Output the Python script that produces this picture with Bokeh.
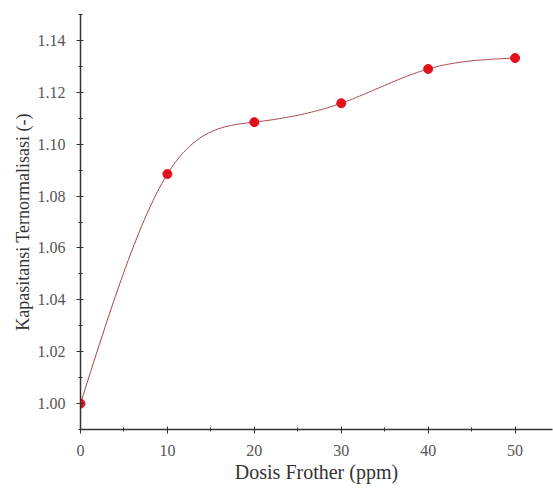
import numpy as np
from bokeh.plotting import figure
from bokeh.models import FixedTicker, Range1d, CustomJSTickFormatter
from bokeh.embed import file_html
from bokeh.resources import INLINE

# Data
dose = [0, 10, 20, 30, 40, 50]
capacitance = [1.000, 1.0885, 1.1085, 1.1158, 1.1290, 1.1332]
x_ticks = [0, 10, 20, 30, 40, 50]
y_ticks = [1.00, 1.02, 1.04, 1.06, 1.08, 1.10, 1.12, 1.14]


def natural_spline(x, y, xs):
    x = np.asarray(x, float)
    y = np.asarray(y, float)
    n = len(x)
    h = np.diff(x)
    A = np.zeros((n, n))
    b = np.zeros(n)
    A[0, 0] = 1
    A[-1, -1] = 1
    for i in range(1, n - 1):
        A[i, i - 1] = h[i - 1]
        A[i, i] = 2 * (h[i - 1] + h[i])
        A[i, i + 1] = h[i]
        b[i] = 3 * ((y[i + 1] - y[i]) / h[i] - (y[i] - y[i - 1]) / h[i - 1])
    c = np.linalg.solve(A, b)
    out = []
    for t in xs:
        i = min(max(np.searchsorted(x, t) - 1, 0), n - 2)
        dx = t - x[i]
        bi = (y[i + 1] - y[i]) / h[i] - h[i] * (2 * c[i] + c[i + 1]) / 3
        di = (c[i + 1] - c[i]) / (3 * h[i])
        out.append(y[i] + bi * dx + c[i] * dx ** 2 + di * dx ** 3)
    return np.array(out)


xs = np.linspace(min(dose), max(dose), 300)
ys = natural_spline(dose, capacitance, xs)

p = figure(width=553, height=488, output_backend="svg", toolbar_location=None,
           x_range=Range1d(0, 54.3), y_range=Range1d(0.99, 1.15),
           min_border_left=80, min_border_right=1, min_border_top=14, min_border_bottom=59)
p.outline_line_color = None
p.xgrid.visible = False
p.ygrid.visible = False
p.background_fill_color = "white"

p.line(xs, ys, line_color="#a84048", line_width=1)
p.scatter(dose, capacitance, size=9, fill_color="#e3101c", line_color="#e3101c")

for ax in (p.xaxis[0], p.yaxis[0]):
    ax.axis_line_color = "#333333"
    ax.axis_line_width = 1.5
    ax.major_tick_line_color = "#333333"
    ax.minor_tick_line_color = "#333333"
    ax.major_tick_in = 3
    ax.major_tick_out = 4
    ax.minor_tick_in = 2
    ax.minor_tick_out = 2
    ax.major_label_text_font = "Liberation Serif"
    ax.major_label_text_font_size = "16px"
    ax.major_label_text_color = "#555555"
    ax.axis_label_text_font = "Liberation Serif"
    ax.axis_label_text_font_style = "normal"
    ax.axis_label_text_color = "#333333"

p.xaxis[0].axis_label_text_font_size = "20px"
p.yaxis[0].axis_label_text_font_size = "18px"
p.xaxis[0].ticker = FixedTicker(ticks=x_ticks, minor_ticks=[5, 15, 25, 35, 45])
p.yaxis[0].ticker = FixedTicker(ticks=y_ticks, minor_ticks=[0.99, 1.01, 1.03, 1.05, 1.07, 1.09, 1.11, 1.13, 1.15])
p.yaxis[0].formatter = CustomJSTickFormatter(code="return tick.toFixed(2);")
p.xaxis[0].axis_label = "Dosis Frother (ppm)"
p.yaxis[0].axis_label = "Kapasitansi Ternormalisasi (-)"
p.xaxis[0].major_label_standoff = 11
p.yaxis[0].major_label_standoff = 11
p.xaxis[0].axis_label_standoff = 2
p.yaxis[0].axis_label_standoff = 2

open("out.html", "w").write(file_html(p, INLINE))
